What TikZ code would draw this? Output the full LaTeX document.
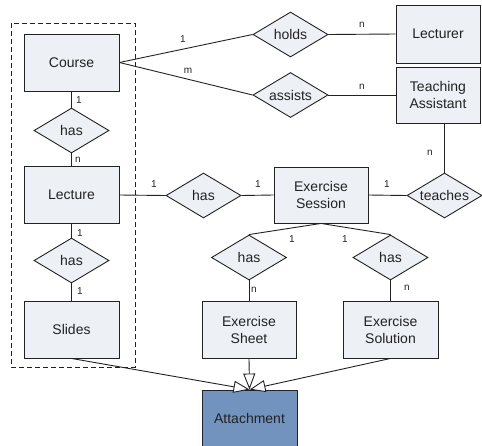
\documentclass[tikz,border=0pt]{standalone}
\usepackage{fontspec}
\setmainfont{Liberation Sans}
\usetikzlibrary{shapes.geometric,arrows.meta}
\definecolor{entfill}{HTML}{EDF0F5}
\definecolor{attfill}{HTML}{7393BF}
\definecolor{ink}{HTML}{222222}
\tikzset{
  entity/.style={draw=ink, fill=entfill, rectangle, minimum width=95pt, minimum height=57pt,
    inner sep=0pt, align=center, font=\fontsize{14}{17}\selectfont, text=ink, line width=0.9pt},
  relation/.style={draw=ink, fill=entfill, diamond, aspect=1.667, minimum width=75pt, minimum height=45pt,
    inner sep=0pt, font=\fontsize{14}{17}\selectfont, text=ink, line width=0.9pt},
  link/.style={draw=ink, line width=0.9pt},
  card/.style={font=\fontsize{10}{12}\selectfont, text=ink, inner sep=0pt},
  gen/.style={draw=ink, line width=0.9pt, -{Triangle[length=16pt,width=12pt,fill=white,line width=0.9pt]}},
}
\begin{document}
\begin{tikzpicture}[x=1pt,y=-1pt]
\useasboundingbox (0,0) rectangle (482,445);
\begin{scope}
\clip (0,0) rectangle (482,445);
% grouping of course material
\draw[ink, line width=0.9pt, dash pattern=on 5pt off 3pt] (11,23) rectangle (135,367);

% entities
\node[entity] (course) at (71.5,62.5) {Course};
\node[entity] (lecture) at (71.5,195) {Lecture};
\node[entity] (slides) at (71.5,329.5) {Slides};
\node[entity, minimum width=84pt, minimum height=58pt] (lecturer) at (438,34) {Lecturer};
\node[entity, minimum width=84pt, minimum height=56pt] (ta) at (438,95) {Teaching\\Assistant};
\node[entity, minimum width=94pt, minimum height=56pt] (session) at (321,195) {Exercise\\Session};
\node[entity, minimum width=94pt] (sheet) at (249,329.5) {Exercise\\Sheet};
\node[entity] (solution) at (390.5,329.5) {Exercise\\Solution};
\node[entity, fill=attfill, minimum width=95pt] (attach) at (249.5,418.5) {Attachment};

% relationships
\node[relation] (hasA) at (71.5,130.5) {has};
\node[relation] (hasB) at (71.5,260.5) {has};
\node[relation] (holds) at (290.5,34.5) {holds};
\node[relation] (assists) at (290.5,95) {assists};
\node[relation] (hasC) at (203.5,195.5) {has};
\node[relation] (teaches) at (444.5,195.5) {teaches};
\node[relation] (hasD) at (249,257.5) {has};
\node[relation] (hasE) at (390.5,257.5) {has};

% connectors
\draw[link] (course.south) -- (hasA.north);
\draw[link] (hasA.south) -- (lecture.north);
\draw[link] (lecture.south) -- (hasB.north);
\draw[link] (hasB.south) -- (slides.north);
\draw[link] (course.east) -- (holds.west);
\draw[link] (course.east) -- (assists.west);
\draw[link] (holds.east) -- (lecturer.west);
\draw[link] (assists.east) -- (ta.west);
\draw[link] (lecture.east) -- (hasC.west);
\draw[link] (hasC.east) -- (session.west);
\draw[link] (session.east) -- (teaches.west);
\draw[link] (teaches.north |- ta.south) -- (teaches.north);
\draw[link] (session.south) -- (hasD.north);
\draw[link] (session.south) -- (hasE.north);
\draw[link] (hasD.south) -- (sheet.north);
\draw[link] (hasE.south) -- (solution.north);

% generalisation arrows
\draw[gen] (slides.south) -- (attach.north);
\draw[gen] (solution.south) -- (attach.north);
\draw[gen] (sheet.south) -- (attach.north);

% cardinalities
\node[card] (c1) at (183,39) {1};
\node[card] (c2) at (188,71) {m};
\node[card] (c3) at (362,25) {n};
\node[card] (c4) at (362,87) {n};
\node[card] (c5) at (430,153) {n};
\node[card] (c6) at (154,184) {1};
\node[card] (c7) at (258,184) {1};
\node[card] (c8) at (387,184) {1};
\node[card] (c9) at (79,100) {1};
\node[card] (c10) at (78,160) {n};
\node[card] (c11) at (80,233) {1};
\node[card] (c12) at (80,291) {1};
\node[card] (c13) at (292,239) {1};
\node[card] (c14) at (345,239) {1};
\node[card] (c15) at (254,290) {n};
\node[card] (c16) at (407,288) {n};
\end{scope}
\end{tikzpicture}
\end{document}
